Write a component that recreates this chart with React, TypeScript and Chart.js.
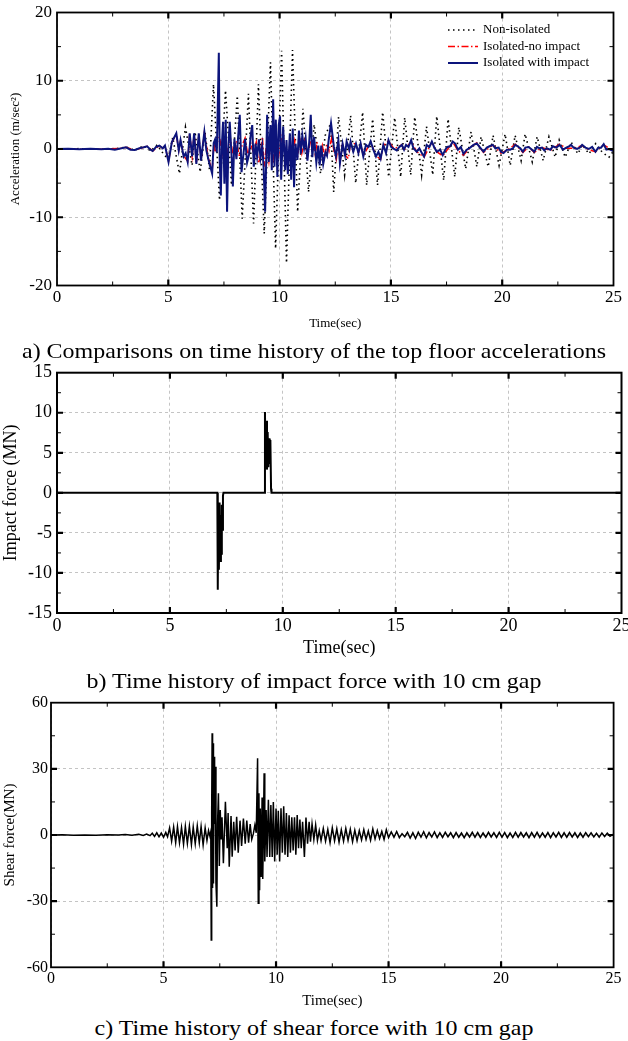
import React, { useEffect, useRef } from "react";
import { Chart, registerables } from "chart.js";

Chart.register(...registerables);

type Pt = [number, number];

const SERIF = '"Liberation Serif", "Times New Roman", Times, serif';
const GRID = "#c4c4c4";

// ---------- text ----------
const CAPTION_A = "a) Comparisons on time history of the top floor accelerations";
const CAPTION_B = "b) Time history of impact force with 10 cm gap";
const CAPTION_C = "c) Time history of shear force with 10 cm gap";
const X_TITLE = "Time(sec)";
const Y_TITLE_A = "Acceleration (m/sec\u00B2)";
const Y_TITLE_B = "Impact force (MN)";
const Y_TITLE_C = "Shear force(MN)";
const LEGEND_A = ["Non-isolated", "Isolated-no impact", "Isolated with impact"];

// ---------- axis ranges ----------
const TIME_RANGE = [0, 25];
const ACC_RANGE = [-20, 20];
const IMPACT_RANGE = [-15, 15];
const SHEAR_RANGE = [-60, 60];

// ---------- (a) top floor acceleration, m/sec^2 ----------
const accNonIsolated: Pt[] = [
  [0, 0], [1, 0.05], [2, -0.05], [2.8, 0.1], [3.1, 0.3], [3.5, -0.2], [3.9, 0.5], [4.2, -0.3], [4.5, 0.6], [4.8, -0.8],
  [5.0, -1.5], [5.2, 1.7], [5.5, -3.6], [5.77, 3.2], [6.07, -2.4], [6.2, 2.5], [6.43, -3.4], [6.65, 2.5], [6.85, -3.0],
  [7.03, 9.5], [7.3, -7.5], [7.57, 8.6], [7.84, -5.3], [8.1, 7.8], [8.32, -10.2], [8.6, 8.1], [8.83, -10.9], [9.05, 9.5],
  [9.31, -12.4], [9.59, 12.7], [9.82, -14.6], [10.09, 14.4], [10.31, -16.7], [10.58, 14.5], [10.81, -9.2], [11.05, 5.9],
  [11.3, -6.3], [11.55, 3.6], [11.84, -3.6], [12.05, 2.0], [12.29, 3.7], [12.43, -6.3], [12.65, 4.7], [12.92, -3.8],
  [13.19, 4.9], [13.42, -5.0], [13.73, 5.4], [13.91, -5.3], [14.18, 4.4], [14.4, -5.3], [14.63, 5.4], [14.9, -4.1],
  [15.17, 4.6], [15.44, -4.1], [15.62, 4.6], [15.89, -3.8], [16.07, 4.7], [16.38, -3.8], [16.6, 3.3], [16.88, -3.8],
  [17.06, 4.8], [17.37, -4.6], [17.57, 4.4], [17.87, -4.1], [18.05, 3.2], [18.36, -2.9], [18.6, 2.5], [18.86, -2.6],
  [19.05, 1.8], [19.37, -2.6], [19.59, 2.0], [19.86, -2.4], [20.13, 2.2], [20.36, -2.4], [20.58, 2.0], [20.85, -1.7],
  [21.03, 2.2], [21.35, -1.9], [21.57, 1.8], [21.84, -1.7], [22.1, 1.8], [22.38, -1.2], [22.56, 1.3], [22.83, -1.2],
  [23.1, 1.0], [23.4, -0.7], [23.6, 0.6], [23.9, -0.7], [24.2, 0.8], [24.5, -0.5], [24.8, -1.2], [25, -0.3],
];

const accIsoNoImpact: Pt[] = [
  [0, 0], [1, -0.05], [2, -0.05], [2.9, 0.1], [3.1, 0.25], [3.5, -0.15], [3.9, 0.25], [4.05, 0.4], [4.3, -0.3], [4.6, 0.5],
  [4.75, 0.1], [4.85, 0.5], [5.01, -1.8], [5.16, 1.0], [5.36, 2.2], [5.47, -0.2], [5.55, 1.2], [5.69, -1.0], [5.87, -1.8],
  [5.96, 2.2], [6.07, -1.0], [6.16, 2.2], [6.26, -2.1], [6.37, 2.2], [6.47, -1.6], [6.62, 2.4], [6.8, -1.4], [6.97, -3.2],
  [7.05, 0.8], [7.12, -0.5], [7.2, 1.0], [7.3, 1.8], [7.42, -0.8], [7.55, 1.2], [7.65, -0.6], [7.78, 1.75], [7.9, -0.8],
  [8.05, 1.2], [8.2, -1.2], [8.32, 0.6], [8.45, 1.6], [8.58, -1.1], [8.7, 0.9], [8.82, -0.5], [8.95, 1.0], [9.05, -2.1],
  [9.15, -1.0], [9.23, 1.8], [9.3, -2.6], [9.42, 0.8], [9.52, -1.8], [9.62, 1.5], [9.72, -1.3], [9.82, 1.2], [9.93, -1.5],
  [10.05, 1.0], [10.15, 2.5], [10.25, -0.5], [10.35, -1.6], [10.47, 0.8], [10.57, -1.0], [10.68, 1.2], [10.8, -1.3],
  [10.9, 1.5], [11.0, -0.6], [11.12, 1.2], [11.25, -1.2], [11.38, 1.0], [11.5, 1.3], [11.6, -0.8], [11.68, 1.0],
  [11.8, -1.5], [11.92, 0.5], [12.02, -1.2], [12.12, 0.8], [12.22, -0.3], [12.34, 1.6], [12.45, -0.4], [12.55, -1.5],
  [12.64, 1.2], [12.71, -1.9], [12.83, 0.7], [12.94, -0.9], [13.09, -1.4], [13.19, 1.0], [13.43, 0.7], [13.54, -0.7],
  [13.64, 0.8], [13.76, -1.0], [14.09, 1.0], [14.33, -1.0], [14.54, -1.5], [14.66, 0.5], [14.89, 1.2], [15.14, 0],
  [15.49, 0.6], [15.59, -0.2], [15.91, 1.1], [16.16, -0.4], [16.49, -1.2], [16.84, 1.0], [17.06, -0.4], [17.33, -1.0],
  [17.78, 1.0], [18.01, -0.2], [18.26, -0.9], [18.56, 0.2], [18.86, 0.9], [19.16, -0.5], [19.58, 0.6], [19.94, -0.6],
  [20.21, -0.2], [20.59, 0.7], [20.93, -0.5], [21.19, 0.3], [21.44, -0.5], [21.79, 0.2], [22.16, -0.2], [22.58, 0.7],
  [22.88, 0.1], [23.21, 0.1], [23.59, 0.5], [23.89, -0.1], [24.19, -0.4], [24.56, 0.6], [25, -0.3],
];

const accIsoImpact: Pt[] = [
  [0, 0], [0.5, 0.03], [1, -0.05], [1.5, 0.03], [2, -0.05], [2.3, 0.05], [2.6, -0.1], [2.9, 0.1], [3.1, 0.25], [3.3, -0.1],
  [3.5, -0.15], [3.7, 0.1], [3.9, 0.25], [4.05, 0.4], [4.2, -0.1], [4.3, -0.3], [4.45, 0.3], [4.6, 0.5], [4.75, 0.1],
  [4.85, 0.5], [5.01, -1.9], [5.16, 1.0], [5.36, 2.3], [5.47, -0.2], [5.55, 1.3], [5.69, -1.1], [5.78, -0.6], [5.87, -1.9],
  [5.96, 2.3], [6.07, -1.1], [6.16, 2.3], [6.26, -2.2], [6.37, 2.3], [6.47, -1.7], [6.62, 2.5], [6.71, -0.2], [6.8, -1.5],
  [6.97, -3.6], [7.04, 0.9], [7.1, 1.4], [7.18, -0.5], [7.27, 14.1], [7.31, -1.7], [7.36, -6.8], [7.41, 0.8], [7.46, 4.0],
  [7.52, -5.1], [7.58, 4.3], [7.64, -9.2], [7.7, 0.5], [7.76, 4.0], [7.85, -1.5], [7.9, -5.5], [7.97, 1.5], [8.06, -1.5],
  [8.12, 1.0], [8.21, 5.0], [8.29, -3.4], [8.35, -1.5], [8.45, 1.5], [8.54, -2.0], [8.63, -0.8], [8.7, 2.0], [8.77, 3.5],
  [8.84, -2.6], [8.92, 0.8], [8.99, -1.1], [9.07, 1.4], [9.14, -1.3], [9.22, 0.5], [9.28, -2.6], [9.35, -9.2], [9.44, 5.0],
  [9.51, -1.9], [9.59, 3.5], [9.65, -3.1], [9.71, 7.3], [9.77, -2.6], [9.83, 4.3], [9.9, -4.1], [9.96, 3.5], [10.02, 4.8],
  [10.07, -4.5], [10.16, 3.3], [10.25, -3.1], [10.31, 1.3], [10.37, -3.7], [10.46, 2.3], [10.52, -4.5], [10.59, 3.0],
  [10.65, -5.6], [10.71, 0.8], [10.8, -1.6], [10.87, 2.7], [10.95, -0.7], [11.02, 2.0], [11.1, 0.1], [11.17, 1.6],
  [11.25, -1.7], [11.33, 1.0], [11.4, 5.0], [11.47, -1.2], [11.55, 1.8], [11.65, -2.0], [11.74, 0.5], [11.8, -2.4],
  [11.87, 0.5], [11.96, -2.2], [12.06, -0.5], [12.13, -1.0], [12.2, 1.2], [12.31, 3.8], [12.44, 0.3], [12.53, -1.1],
  [12.64, 1.3], [12.71, -2.1], [12.83, 0.8], [12.94, -0.9], [13.01, 1.1], [13.13, -0.1], [13.19, 1.1], [13.31, -0.4],
  [13.43, 0.8], [13.54, -0.6], [13.64, 0.8], [13.76, -1.1], [13.88, 0.6], [13.99, 0.3], [14.09, 1.1], [14.21, -0.1],
  [14.33, -1.1], [14.44, -0.4], [14.54, -1.4], [14.66, 0.6], [14.78, -0.6], [14.89, 1.3], [15.01, 0.3], [15.14, 0],
  [15.26, -0.2], [15.38, 0.3], [15.49, 0.6], [15.59, -0.1], [15.68, 0.6], [15.79, 0.3], [15.91, 1.3], [16.01, 0.1],
  [16.16, -0.4], [16.28, 0.1], [16.39, -0.6], [16.49, -1.1], [16.61, 0.6], [16.73, 0.3], [16.84, 1.1], [16.94, 0.3],
  [17.06, -0.4], [17.21, -0.1], [17.33, -0.9], [17.44, -0.1], [17.54, 0.3], [17.66, 0.4], [17.78, 1.1], [17.89, 0.8],
  [18.01, -0.1], [18.14, 0.3], [18.26, -0.7], [18.41, -0.1], [18.56, 0.2], [18.71, 0.6], [18.86, 0.8], [19.01, 0.2],
  [19.16, -0.4], [19.31, 0.2], [19.43, 0.4], [19.58, 0.6], [19.69, 0.1], [19.84, 0.2], [19.94, -0.4], [20.06, -0.6],
  [20.21, -0.1], [20.36, -0.1], [20.48, 0.1], [20.59, 0.6], [20.69, 0.4], [20.81, 0.1], [20.93, -0.4], [21.04, 0.2],
  [21.19, 0.3], [21.34, -0.1], [21.44, -0.4], [21.56, 0.3], [21.68, 0.1], [21.79, 0.2], [21.89, -0.2], [22.01, 0.1],
  [22.16, -0.1], [22.28, 0.4], [22.43, 0.2], [22.58, 0.6], [22.73, -0.1], [22.88, 0.2], [23.0, 0.4], [23.09, 0.6],
  [23.21, 0.2], [23.36, 0], [23.48, 0.2], [23.59, 0.6], [23.74, 0.2], [23.89, 0], [24.04, 0.3], [24.19, -0.4],
  [24.31, 0.2], [24.44, 0.2], [24.56, 0.7], [24.68, -0.1], [24.79, 0], [25, -0.3],
];

// ---------- (b) impact force, MN ----------
const impactForce: Pt[] = [
  [0, 0], [7.1, 0], [7.12, -12.1], [7.14, -2.6], [7.17, -9.6], [7.2, -1.2], [7.23, -8.5], [7.26, -2.8], [7.28, -7.6],
  [7.3, -1.5], [7.32, -4.6], [7.35, -0.4], [7.37, 0], [9.18, 0], [9.21, 10.1], [9.24, 3.5], [9.27, 9.0], [9.3, 2.9],
  [9.33, 7.6], [9.36, 3.2], [9.39, 6.8], [9.42, 3.6], [9.45, 6.6], [9.48, 0.5], [9.5, 0], [25, 0],
];

// ---------- (c) shear force, MN ----------
const shearForce: Pt[] = [
  [0, 0], [0.5, 0.1], [1, -0.1], [1.5, 0.05], [2, -0.1], [2.5, 0.1], [3, -0.05], [3.3, 0.2], [3.6, -0.1], [3.9, 0.3],
  [4.1, -0.2], [4.25, 0.4], [4.4, -0.3], [4.5, 0.8], [4.6, -0.6], [4.7, 1.0], [4.8, -0.8], [4.9, 0.9], [5.0, -1.0],
  [5.1, 1.2], [5.18, -0.8], [5.27, 3.2], [5.36, -2.8], [5.45, 3.6], [5.54, -3.4], [5.62, 3.8], [5.71, -3.6], [5.8, 3.4],
  [5.89, -4.2], [5.97, 3.9], [6.06, -3.8], [6.15, 4.0], [6.24, -4.4], [6.32, 3.6], [6.41, -4.0], [6.5, 4.2], [6.59, -3.6],
  [6.67, 3.8], [6.76, -4.5], [6.85, 3.2], [6.93, -2.5], [7.0, 2.0], [7.06, -0.5], [7.1, 1.5], [7.12, -47.6], [7.14, 10],
  [7.16, 46.1], [7.18, -24], [7.2, 41.6], [7.22, -22], [7.25, 35.5], [7.27, 5], [7.3, 31], [7.33, -22], [7.37, -32.5],
  [7.4, 5], [7.44, 18.9], [7.48, -14], [7.52, 11.3], [7.56, -2], [7.6, 8], [7.66, -12.8], [7.75, 15.1], [7.83, -6],
  [7.87, 10], [7.92, -14.4], [8.0, 8.6], [8.05, -9.8], [8.12, 6], [8.18, -7], [8.25, 8.3], [8.32, -8], [8.4, 6.5],
  [8.47, -5], [8.55, 7.5], [8.63, -4], [8.7, 6.5], [8.78, -3.5], [8.85, 5], [8.92, -2], [8.99, 0.5], [9.06, 4.5],
  [9.12, 1.0], [9.18, 34.8], [9.21, -31], [9.24, 18.9], [9.27, -25], [9.3, 12], [9.34, -19], [9.38, 17], [9.41, -20],
  [9.47, 28], [9.5, -12], [9.56, 11.3], [9.6, -10], [9.66, 16], [9.72, -10], [9.77, 13.6], [9.83, -10], [9.88, 15],
  [9.94, -12], [10.0, 12], [10.05, -9], [10.1, 11], [10.16, -12], [10.22, 12.1], [10.28, -8], [10.34, 13], [10.4, -9],
  [10.46, 10], [10.52, -10], [10.58, 9], [10.64, -8], [10.7, 8], [10.76, -7], [10.82, 8], [10.88, -9], [10.94, 9.1],
  [11.0, -6], [11.06, 7], [11.12, -6], [11.18, 6], [11.26, -10], [11.33, 7.9], [11.4, -4], [11.47, 6], [11.53, -3],
  [11.6, 5], [11.68, -2], [11.76, 4.5], [11.84, -2.5], [11.92, 2], [12.0, -2.5], [12.1, 3], [12.2, -2.8], [12.3, 2.5],
  [12.4, -3.5], [12.5, 3.2], [12.6, -2.6], [12.7, 2.8], [12.8, -3.2], [12.9, 2.4], [13.0, -2.8], [13.1, 3.0],
  [13.2, -2.4], [13.3, 2.6], [13.4, -3.0], [13.5, 2.2], [13.6, -2.6], [13.7, 2.0], [13.8, -2.2], [13.9, 2.4],
  [14.0, -2.0], [14.1, 1.8], [14.2, -2.4], [14.3, 2.8], [14.4, -1.8], [14.5, 2.0], [14.6, -1.6], [14.7, 1.6],
  [14.8, -2.0], [14.9, 2.4], [15.0, -1.2], [15.12, 1.4], [15.24, -1.0], [15.36, 1.6], [15.48, -1.2], [15.6, 0.6],
  [15.72, -0.8], [15.84, 1.2], [15.96, -1.4], [16.08, 1.0], [16.2, -1.6], [16.32, 1.3], [16.44, -1.0], [16.56, 1.5],
  [16.68, -1.3], [16.8, 1.1], [16.92, -0.9], [17.04, 1.4], [17.16, -1.2], [17.28, 1.0], [17.4, -1.1], [17.52, 1.2],
  [17.64, -0.8], [17.76, 1.0], [17.88, -1.2], [18.0, 1.1], [18.12, -1.0], [18.24, 0.9], [18.36, -1.2], [18.48, 1.0],
  [18.6, -0.9], [18.72, 1.2], [18.84, -1.0], [18.96, 1.1], [19.08, -1.1], [19.2, 0.9], [19.32, -1.0], [19.44, 1.2],
  [19.56, -0.9], [19.68, 1.0], [19.8, -1.1], [19.92, 1.2], [20.04, -1.0], [20.16, 1.1], [20.28, -1.2], [20.4, 0.9],
  [20.52, -1.1], [20.64, 1.2], [20.76, -1.0], [20.88, 1.1], [21.0, -0.9], [21.12, 1.0], [21.24, -1.2], [21.36, 1.1],
  [21.48, -1.0], [21.6, 1.2], [21.72, -1.1], [21.84, 0.9], [21.96, -1.0], [22.08, 1.1], [22.2, -1.2], [22.32, 1.0],
  [22.44, -0.9], [22.56, 1.2], [22.68, -1.1], [22.8, 1.0], [22.92, -1.0], [23.04, 1.1], [23.16, -0.9], [23.28, 1.0],
  [23.4, -1.1], [23.52, 0.9], [23.64, -1.0], [23.76, 1.1], [23.88, -0.8], [24.0, 1.0], [24.12, -0.9], [24.24, 0.8],
  [24.36, -1.0], [24.48, 0.9], [24.6, -0.7], [24.72, 0.8], [24.84, -0.6], [24.96, 0.2], [25, 0],
];

// ---------- plugins ----------
const framePlugin = {
  id: "frame",
  afterDatasetsDraw(chart: any, _args: any, o: any) {
    const { ctx, chartArea } = chart;
    const { left, right, top, bottom } = chartArea;
    const xs = chart.scales.x;
    const ys = chart.scales.y;
    const isMajor = (v: number, step: number) => Math.abs(v / step - Math.round(v / step)) < 1e-6;
    ctx.save();
    ctx.strokeStyle = "#000";
    const nx = Math.round((xs.max - xs.min) / o.xMinor);
    for (let i = 1; i < nx; i++) {
      const v = xs.min + i * o.xMinor;
      const px = xs.getPixelForValue(v);
      const maj = isMajor(v, o.xMajor);
      const len = maj ? o.majorLen : o.minorLen;
      ctx.lineWidth = maj ? o.majorWidth : o.minorWidth;
      ctx.beginPath();
      ctx.moveTo(px, bottom);
      ctx.lineTo(px, bottom - len);
      ctx.moveTo(px, top);
      ctx.lineTo(px, top + len);
      ctx.stroke();
    }
    const ny = Math.round((ys.max - ys.min) / o.yMinor);
    for (let i = 1; i < ny; i++) {
      const v = ys.min + i * o.yMinor;
      const py = ys.getPixelForValue(v);
      const maj = isMajor(v, o.yMajor);
      const len = maj ? o.majorLen : o.minorLen;
      ctx.lineWidth = maj ? o.majorWidth : o.minorWidth;
      ctx.beginPath();
      ctx.moveTo(left, py);
      ctx.lineTo(left + len, py);
      ctx.moveTo(right, py);
      ctx.lineTo(right - len, py);
      ctx.stroke();
    }
    ctx.lineWidth = o.frameWidth;
    ctx.strokeRect(left, top, right - left, bottom - top);
    ctx.restore();
  },
};

const insetLegendPlugin = {
  id: "insetLegend",
  afterDatasetsDraw(chart: any, _args: any, o: any) {
    if (!o || !o.show) return;
    const { ctx } = chart;
    ctx.save();
    chart.data.datasets.forEach((ds: any, i: number) => {
      const y = o.y0 + i * o.dy;
      ctx.beginPath();
      ctx.strokeStyle = ds.borderColor;
      ctx.lineWidth = ds.borderWidth;
      ctx.setLineDash(ds.borderDash || []);
      ctx.moveTo(o.x0, y);
      ctx.lineTo(o.x1, y);
      ctx.stroke();
      ctx.setLineDash([]);
      ctx.fillStyle = "#000";
      ctx.font = `${o.size}px ${SERIF}`;
      ctx.textBaseline = "middle";
      ctx.textAlign = "left";
      ctx.fillText(ds.label, o.tx, y);
    });
    ctx.restore();
  },
};

const toXY = (pts: Pt[]) => pts.map(([x, y]) => ({ x, y }));

interface PanelSpec {
  height: number;
  datasets: any[];
  yRange: number[];
  yStep: number;
  yMinor: number;
  xMinor: number;
  yTitle: string;
  yTitleSize: number;
  yTitlePad: number;
  xTitleSize: number;
  xTitlePad: number;
  tickSize: number;
  xTickPad: number;
  yTickPad: number;
  padTop: number;
  padRight: number;
  yWidth: number;
  xHeight: number;
  frameWidth: number;
  legend?: any;
}

function buildConfig(p: PanelSpec): any {
  const tickFont = { family: SERIF, size: p.tickSize };
  return {
    type: "line",
    data: { datasets: p.datasets },
    plugins: [framePlugin, insetLegendPlugin],
    options: {
      responsive: false,
      animation: false,
      devicePixelRatio: 1,
      events: [],
      layout: { padding: { left: 0, top: p.padTop, right: p.padRight, bottom: 0 } },
      elements: { point: { radius: 0 }, line: { tension: 0 } },
      scales: {
        x: {
          type: "linear",
          min: TIME_RANGE[0],
          max: TIME_RANGE[1],
          ticks: { stepSize: 5, color: "#000", font: tickFont, padding: p.xTickPad, maxRotation: 0, autoSkip: false },
          grid: { color: GRID, lineWidth: 1, drawTicks: false },
          border: { display: false, dash: [3, 3] },
          title: {
            display: true,
            text: X_TITLE,
            color: "#000",
            font: { family: SERIF, size: p.xTitleSize },
            padding: { top: 0, bottom: p.xTitlePad },
          },
          afterFit: (s: any) => {
            s.height = p.xHeight;
            s.paddingLeft = 0;
            s.paddingRight = 0;
          },
        },
        y: {
          type: "linear",
          min: p.yRange[0],
          max: p.yRange[1],
          ticks: { stepSize: p.yStep, color: "#000", font: tickFont, padding: p.yTickPad },
          grid: { color: GRID, lineWidth: 1, drawTicks: false },
          border: { display: false, dash: [3, 3] },
          title: {
            display: true,
            text: p.yTitle,
            color: "#000",
            font: { family: SERIF, size: p.yTitleSize },
            padding: { top: p.yTitlePad, bottom: 0 },
          },
          afterFit: (s: any) => {
            s.width = p.yWidth;
            s.paddingTop = 0;
            s.paddingBottom = 0;
          },
        },
      },
      plugins: {
        legend: { display: false },
        tooltip: { enabled: false },
        frame: {
          xMajor: 5,
          xMinor: p.xMinor,
          yMajor: p.yStep,
          yMinor: p.yMinor,
          majorLen: 6,
          minorLen: 4,
          majorWidth: 2.2,
          minorWidth: 1,
          frameWidth: p.frameWidth,
        },
        insetLegend: p.legend || { show: false },
      },
    },
  };
}

function Panel({ top, spec }: { top: number; spec: PanelSpec }) {
  const ref = useRef<HTMLCanvasElement | null>(null);
  useEffect(() => {
    if (!ref.current) return;
    const chart = new Chart(ref.current, buildConfig(spec));
    return () => chart.destroy();
  }, []);
  return (
    <canvas
      ref={ref}
      width={628}
      height={spec.height}
      style={{ position: "absolute", left: 0, top, width: 628, height: spec.height, display: "block" }}
    />
  );
}

const specA: PanelSpec = {
  height: 340,
  datasets: [
    { label: LEGEND_A[0], data: toXY(accNonIsolated), borderColor: "#000000", borderWidth: 1.6, borderDash: [1.5, 3.5], order: 3 },
    { label: LEGEND_A[1], data: toXY(accIsoNoImpact), borderColor: "#ff0000", borderWidth: 1.5, borderDash: [7, 2.5, 1.5, 2.5], order: 2 },
    { label: LEGEND_A[2], data: toXY(accIsoImpact), borderColor: "#0c147c", borderWidth: 2, order: 1 },
  ],
  yRange: ACC_RANGE,
  yStep: 10,
  yMinor: 5,
  xMinor: 2.5,
  yTitle: Y_TITLE_A,
  yTitleSize: 13,
  yTitlePad: 8,
  xTitleSize: 13,
  xTitlePad: 9,
  tickSize: 17,
  xTickPad: 2,
  yTickPad: 5,
  padTop: 12.5,
  padRight: 14.5,
  yWidth: 57,
  xHeight: 54.5,
  frameWidth: 1.8,
  legend: { show: true, x0: 448, x1: 478, tx: 483, y0: 30, dy: 16.5, size: 13 },
};

const specB: PanelSpec = {
  height: 310,
  datasets: [{ label: "Impact force", data: toXY(impactForce), borderColor: "#000", borderWidth: 2 }],
  yRange: IMPACT_RANGE,
  yStep: 5,
  yMinor: 2.5,
  xMinor: 2.5,
  yTitle: Y_TITLE_B,
  yTitleSize: 18,
  yTitlePad: 0,
  xTitleSize: 18,
  xTitlePad: 6,
  tickSize: 18,
  xTickPad: 2,
  yTickPad: 5,
  padTop: 17.7,
  padRight: 6.5,
  yWidth: 57,
  xHeight: 52,
  frameWidth: 2,
};

const specC: PanelSpec = {
  height: 325,
  datasets: [{ label: "Shear force", data: toXY(shearForce), borderColor: "#000", borderWidth: 1.5 }],
  yRange: SHEAR_RANGE,
  yStep: 30,
  yMinor: 15,
  xMinor: 2.5,
  yTitle: Y_TITLE_C,
  yTitleSize: 15,
  yTitlePad: 1,
  xTitleSize: 15,
  xTitlePad: 5,
  tickSize: 16,
  xTickPad: 2,
  yTickPad: 3,
  padTop: 12.7,
  padRight: 14.4,
  yWidth: 51,
  xHeight: 47.7,
  frameWidth: 1.8,
};

function Caption({ top, text }: { top: number; text: string }) {
  return (
    <div
      style={{
        position: "absolute",
        left: 0,
        top,
        width: 628,
        textAlign: "center",
        fontFamily: SERIF,
        fontSize: 22,
        lineHeight: "22px",
        whiteSpace: "nowrap",
        color: "#000",
        transform: "scaleX(1.09)",
        transformOrigin: "50% 50%",
        zIndex: 2,
      }}
    >
      {text}
    </div>
  );
}

export default function App() {
  return (
    <div style={{ position: "absolute", left: 0, top: 0, width: 628, height: 1041, background: "#fff", overflow: "hidden" }}>
      <Panel top={0} spec={specA} />
      <Panel top={355} spec={specB} />
      <Panel top={690} spec={specC} />
      <Caption top={340} text={CAPTION_A} />
      <Caption top={669.6} text={CAPTION_B} />
      <Caption top={1016.6} text={CAPTION_C} />
    </div>
  );
}
